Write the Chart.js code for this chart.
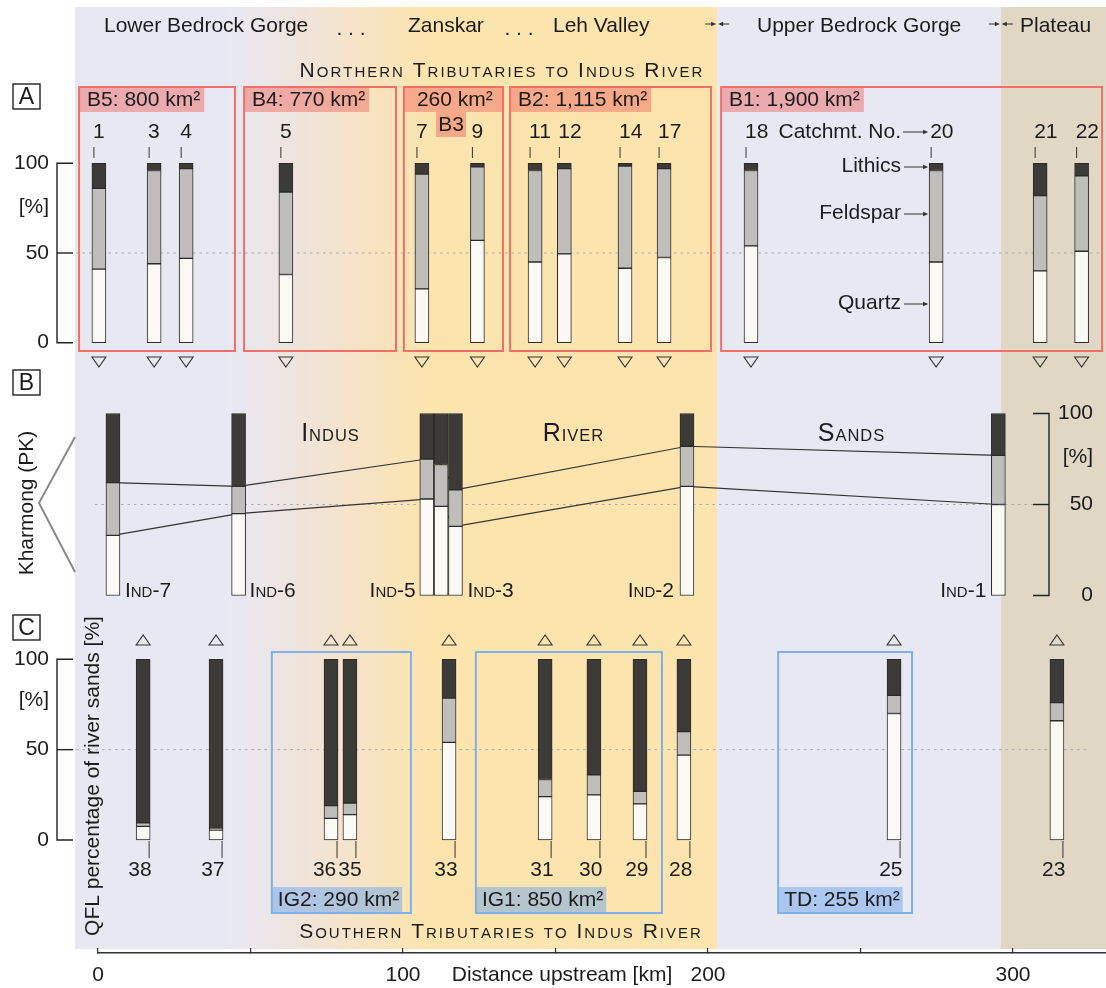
<!DOCTYPE html>
<html>
<head>
<meta charset="utf-8">
<title>QFL composition of Indus River and tributary sands</title>
<script src="https://cdn.jsdelivr.net/npm/chart.js@4.4.1/dist/chart.umd.min.js"></script>
<style>
  html, body { margin: 0; padding: 0; background: #fff; }
  canvas { display: block; }
</style>
</head>
<body>
<canvas id="qfl" width="1106" height="988" style="width:1106px;height:988px"></canvas>
<script>
// ---------- data: QFL percentages (Quartz, Feldspar, Lithics) ----------
// A: northern tributaries, catchment number and distance upstream [km]
const northIds = ['1', '3', '4', '5', '7', '9', '11', '12', '14', '17', '18', '20', '21', '22'];
const northKm  = [0.3, 18.4, 28.9, 61.6, 106.2, 124.4, 143.3, 152.9, 172.8, 185.6, 214.1, 274.8, 308.9, 322.5];
const northQ   = [41, 44, 47, 38, 30, 57, 45, 49.5, 41.5, 47.5, 54, 45, 40, 51];
const northF   = [45, 52, 50, 46, 64, 41, 51, 47.5, 57, 49.5, 42, 51, 42, 42];
const northL   = [14, 4, 3, 16, 6, 2, 4, 3, 1.5, 3, 4, 4, 18, 7];

// B: Indus trunk samples IND-7 ... IND-1
const indusIds = ['Ind-7', 'Ind-6', 'Ind-5', 'Ind-4', 'Ind-3', 'Ind-2', 'Ind-1'];
const indusKm  = [4.9, 46.1, 107.8, 112.5, 117.2, 193.1, 295.2];
const indusQ   = [33, 45, 53, 49, 38, 60, 50];
const indusF   = [29, 15, 22, 23, 20, 22, 27];
const indusL   = [38, 40, 25, 28, 42, 18, 23];

// C: southern tributaries
const southIds = ['38', '37', '36', '35', '33', '31', '30', '29', '28', '25', '23'];
const southKm  = [14.8, 38.7, 76.4, 82.6, 115.1, 146.6, 162.6, 177.7, 192.1, 261, 314.4];
const southQ   = [7.5, 5.5, 12, 14, 54, 24, 25, 20, 47, 70, 66];
const southF   = [2, 1, 7, 6.5, 24.5, 9.5, 11, 7, 13, 10, 10];
const southL   = [90.5, 93.5, 81, 79.5, 21.5, 66.5, 64, 73, 40, 20, 24];

// distance axis
const distanceTicks = [0, 100, 200, 300];
const percentTicks = ['100', '[%]', '50', '0'];

// ---------- layout ----------
const FAMILY = '"Liberation Sans", Arial, Helvetica, sans-serif';
const INK = '#1c1c1c';
const PLOT_LEFT = 98, PLOT_BOTTOM = 953;
const KM_MAX = (1106 - PLOT_LEFT) / 3.05;
// pixel rows of 100 % and 0 % in each panel
const panelRows = { yA: [163.3, 342.7], yB: [413.5, 595.5], yC: [659.3, 840] };
function axisRange([top, zero]) {
  const k = (zero - top) / 100;
  const max = 100 + top / k;
  return { min: max - PLOT_BOTTOM / k, max };
}

const COLORS = { Quartz: '#fbf9f4', Feldspar: '#bfbebb', Lithics: '#3d3b38' };

function qflSets(km, Q, F, L, axis) {
  const parts = [
    ['Quartz',   i => 0,           i => Q[i]],
    ['Feldspar', i => Q[i],        i => Q[i] + F[i]],
    ['Lithics',  i => Q[i] + F[i], i => Q[i] + F[i] + L[i]]
  ];
  return parts.map(([name, lo, hi]) => ({
    type: 'bar',
    label: name,
    yAxisID: axis,
    data: km.map((x, i) => ({ x, y: [lo(i), hi(i)] })),
    backgroundColor: COLORS[name],
    borderColor: '#2b2b2b',
    borderWidth: 1,
    borderSkipped: false,
    barThickness: 14,
    grouped: false,
    clip: false,
    order: 1
  }));
}

// trend lines joining the Q/F and F/L boundaries of the trunk samples
function boundaryLine(values) {
  return {
    type: 'line',
    yAxisID: 'yB',
    data: indusKm.map((x, i) => ({ x, y: values[i] })),
    borderColor: '#333',
    borderWidth: 1.2,
    pointRadius: 0,
    tension: 0,
    clip: false,
    order: 5
  };
}

// ---------- drawing helpers ----------
function txt(ctx, s, x, y, o = {}) {
  ctx.font = `${o.size || 21}px ${FAMILY}`;
  ctx.fillStyle = o.color || INK;
  ctx.textAlign = o.align || 'left';
  ctx.textBaseline = o.base || 'middle';
  ctx.fillText(s, x, y);
  return ctx.measureText(s).width;
}
function textWidth(ctx, s, size) {
  ctx.font = `${size}px ${FAMILY}`;
  return ctx.measureText(s).width;
}
// lower-case letters are set as small capitals
function smallCaps(ctx, s, x, y, big, small, align, track) {
  const parts = [...s].map(ch => {
    const low = ch !== ch.toUpperCase();
    return { ch: low ? ch.toUpperCase() : ch, size: low ? small : big };
  });
  let w = 0;
  parts.forEach(p => { p.w = textWidth(ctx, p.ch, p.size); w += p.w + track; });
  w -= track;
  let cx = align === 'center' ? x - w / 2 : align === 'right' ? x - w : x;
  ctx.textAlign = 'left';
  ctx.textBaseline = 'alphabetic';
  ctx.fillStyle = INK;
  parts.forEach(p => {
    ctx.font = `${p.size}px ${FAMILY}`;
    ctx.fillText(p.ch, cx, y);
    cx += p.w + track;
  });
  return w;
}
function line(ctx, pts, color = '#2b2b2b', width = 1.2) {
  ctx.beginPath();
  ctx.moveTo(pts[0][0], pts[0][1]);
  for (let i = 1; i < pts.length; i++) ctx.lineTo(pts[i][0], pts[i][1]);
  ctx.strokeStyle = color;
  ctx.lineWidth = width;
  ctx.stroke();
}
function arrow(ctx, x1, x2, y) {
  line(ctx, [[x1, y], [x2 - 4, y]], '#333', 1);
  ctx.beginPath();
  ctx.moveTo(x2, y); ctx.lineTo(x2 - 5, y - 2.2); ctx.lineTo(x2 - 5, y + 2.2); ctx.closePath();
  ctx.fillStyle = '#333'; ctx.fill();
}
function meetArrows(ctx, x, y) {
  // two small arrows pointing at a zone boundary
  arrow(ctx, x - 12, x - 1, y);
  line(ctx, [[x + 12, y], [x + 5, y]], '#333', 1);
  ctx.beginPath();
  ctx.moveTo(x + 1, y); ctx.lineTo(x + 6, y - 2.2); ctx.lineTo(x + 6, y + 2.2); ctx.closePath();
  ctx.fill();
}
function triangle(ctx, x, y, down) {
  const h = 10, w = 14;
  ctx.beginPath();
  if (down) { ctx.moveTo(x - w / 2, y - h / 2); ctx.lineTo(x + w / 2, y - h / 2); ctx.lineTo(x, y + h / 2); }
  else { ctx.moveTo(x - w / 2, y + h / 2); ctx.lineTo(x + w / 2, y + h / 2); ctx.lineTo(x, y - h / 2); }
  ctx.closePath();
  ctx.strokeStyle = '#333'; ctx.lineWidth = 1.1; ctx.stroke();
}
function letterBox(ctx, s, x, y) {
  ctx.strokeStyle = '#222'; ctx.lineWidth = 1.4;
  ctx.strokeRect(x, y, 27, 25);
  txt(ctx, s, x + 13.5, y + 13.5, { size: 23, align: 'center' });
}

// catchment boxes (km extents)
const northBasins = [
  { name: 'B5: 800 km²',   from: -6.2,  to: 44.9 },
  { name: 'B4: 770 km²',   from: 47.9,  to: 97.7 },
  { name: '260 km²',       from: 100.3, to: 132.8, full: true, inset: 13 },
  { name: 'B2: 1,115 km²', from: 135.1, to: 201.0 },
  { name: 'B1: 1,900 km²', from: 204.3, to: 329.2 }
];
const southBasins = [
  { name: 'IG2: 290 km²', from: 57.0,  to: 102.6 },
  { name: 'IG1: 850 km²', from: 123.9, to: 184.9 },
  { name: 'TD: 255 km²',  from: 223.0, to: 266.9 }
];

const decor = {
  id: 'decor',
  beforeDraw(chart) {
    const { ctx } = chart;
    const X = v => chart.scales.x.getPixelForValue(v);
    ctx.save();
    ctx.fillStyle = '#fff';
    ctx.fillRect(0, 0, chart.width, chart.height);
    const top = 7, h = 949 - 7;
    // Lower bedrock gorge
    ctx.fillStyle = '#e8e8f3';
    ctx.fillRect(75, top, X(43) - 75, h);
    // Zanskar ... Leh valley
    const g = ctx.createLinearGradient(X(43), 0, X(108), 0);
    g.addColorStop(0, '#e8e8f3');
    g.addColorStop(0.35, '#efe4dc');
    g.addColorStop(0.7, '#f8e3c3');
    g.addColorStop(1, '#fce4ae');
    ctx.fillStyle = g;
    ctx.fillRect(X(43), top, X(203) - X(43), h);
    // Upper bedrock gorge
    ctx.fillStyle = '#e8e8f3';
    ctx.fillRect(X(203), top, X(296) - X(203), h);
    // Plateau
    ctx.fillStyle = '#e0d8c4';
    ctx.fillRect(X(296), top, chart.width - X(296), h);
    ctx.restore();
  },
  beforeDatasetsDraw(chart) {
    const { ctx, scales } = chart;
    const X = v => scales.x.getPixelForValue(v);
    ctx.save();
    // 50 % reference lines
    ctx.setLineDash([2.5, 4]);
    line(ctx, [[76, scales.yA.getPixelForValue(50)], [1100, scales.yA.getPixelForValue(50)]], '#a9a9b0', 1);
    line(ctx, [[95, scales.yB.getPixelForValue(50)], [1033, scales.yB.getPixelForValue(50)]], '#a9a9b0', 1);
    line(ctx, [[76, scales.yC.getPixelForValue(50)], [1090, scales.yC.getPixelForValue(50)]], '#a9a9b0', 1);
    ctx.setLineDash([]);

    // northern catchments (red frames)
    northBasins.forEach(b => {
      const x0 = X(b.from), x1 = X(b.to);
      const inset = b.inset || 8;
      const tw = textWidth(ctx, b.name, 21);
      const fillEnd = b.full ? x1 : x0 + inset + tw + 4;
      ctx.fillStyle = 'rgba(240, 98, 92, 0.45)';
      ctx.fillRect(x0, 88, fillEnd - x0, 24);
      ctx.strokeStyle = '#f07068'; ctx.lineWidth = 2;
      ctx.strokeRect(x0, 87, x1 - x0, 264);
      txt(ctx, b.name, x0 + inset, 100.5, { size: 21 });
    });
    // sub-catchment tag
    ctx.fillStyle = 'rgba(240, 98, 92, 0.45)';
    ctx.fillRect(436, 112, 30, 25);
    txt(ctx, 'B3', 451, 125, { size: 21, align: 'center' });

    // southern catchments (blue frames)
    southBasins.forEach(b => {
      const x0 = X(b.from), x1 = X(b.to);
      const tw = textWidth(ctx, b.name, 21);
      ctx.fillStyle = 'rgba(110, 165, 235, 0.5)';
      ctx.fillRect(x0, 887, x0 + 6 + tw + 3 - x0, 26);
      ctx.strokeStyle = '#7fb1e8'; ctx.lineWidth = 2;
      ctx.strokeRect(x0, 652, x1 - x0, 261);
      txt(ctx, b.name, x0 + 6, 900.5, { size: 21 });
    });
    ctx.restore();
  },
  afterDatasetsDraw(chart) {
    const { ctx, scales } = chart;
    const X = v => scales.x.getPixelForValue(v);
    const yA = v => scales.yA.getPixelForValue(v);
    const yB = v => scales.yB.getPixelForValue(v);
    const yC = v => scales.yC.getPixelForValue(v);
    ctx.save();

    // zone names along the valley
    txt(ctx, 'Lower Bedrock Gorge', 104, 26, { size: 21 });
    txt(ctx, '. . .', 351, 29, { size: 21, align: 'center' });
    txt(ctx, 'Zanskar', 408, 26, { size: 21 });
    txt(ctx, '. . .', 519, 29, { size: 21, align: 'center' });
    txt(ctx, 'Leh Valley', 553, 26, { size: 21 });
    meetArrows(ctx, X(203), 24);
    txt(ctx, 'Upper Bedrock Gorge', 757, 26, { size: 21 });
    meetArrows(ctx, X(296), 24);
    txt(ctx, 'Plateau', 1020, 26, { size: 21 });

    smallCaps(ctx, 'Northern Tributaries to Indus River', 501, 77, 21, 15, 'center', 2);
    smallCaps(ctx, 'Southern Tributaries to Indus River', 500, 938, 21, 15, 'center', 2);

    // panel letters
    letterBox(ctx, 'A', 13, 84);
    letterBox(ctx, 'B', 13, 370);
    letterBox(ctx, 'C', 13, 615);

    // left percent brackets (A and C)
    [[yA, 207], [yC, 700]].forEach(([y, mid]) => {
      line(ctx, [[73, y(100)], [57, y(100)], [57, y(0)], [73, y(0)]], '#222', 1.4);
      line(ctx, [[57, y(50)], [73, y(50)]], '#222', 1.4);
      txt(ctx, percentTicks[0], 49, y(100), { align: 'right' });
      txt(ctx, percentTicks[1], 49, mid, { align: 'right' });
      txt(ctx, percentTicks[2], 49, y(50), { align: 'right' });
      txt(ctx, percentTicks[3], 49, y(0), { align: 'right' });
    });
    // right percent bracket (B)
    line(ctx, [[1033, yB(100)], [1049, yB(100)], [1049, yB(0)], [1033, yB(0)]], '#222', 1.4);
    line(ctx, [[1033, yB(50)], [1049, yB(50)]], '#222', 1.4);
    txt(ctx, percentTicks[0], 1093, yB(100), { align: 'right' });
    txt(ctx, percentTicks[1], 1093, 457, { align: 'right' });
    txt(ctx, percentTicks[2], 1093, yB(50), { align: 'right' });
    txt(ctx, percentTicks[3], 1093, yB(0), { align: 'right' });

    // panel A: catchment numbers, ticks, sample triangles
    northKm.forEach((km, i) => {
      const cx = X(km);
      line(ctx, [[cx - 5, 147], [cx - 5, 158]], '#333', 1);
      txt(ctx, northIds[i], cx - 6, 132, { size: 21 });
      triangle(ctx, cx, 362, true);
    });
    // legend of the composition bands at catchment 20
    const x20 = X(northKm[northIds.indexOf('20')]);
    txt(ctx, 'Catchmt. No.', 901, 132, { align: 'right' });
    arrow(ctx, 903, x20 - 8, 132);
    txt(ctx, 'Lithics', 901, 166, { align: 'right' });
    arrow(ctx, 904, x20 - 8, 167);
    txt(ctx, 'Feldspar', 901, 213, { align: 'right' });
    arrow(ctx, 904, x20 - 8, 214);
    txt(ctx, 'Quartz', 901, 303, { align: 'right' });
    arrow(ctx, 904, x20 - 8, 304);

    // panel B: Kharmong chevron and sample names
    line(ctx, [[75, 437], [39, 503], [75, 572]], '#8a8a8a', 2);
    ctx.save();
    ctx.translate(27, 503);
    ctx.rotate(-Math.PI / 2);
    txt(ctx, 'Kharmong (PK)', 0, 0, { size: 21, align: 'center' });
    ctx.restore();
    smallCaps(ctx, 'Indus', 330, 441, 25, 16.5, 'center', 1);
    smallCaps(ctx, 'River', 573, 441, 25, 16.5, 'center', 1);
    smallCaps(ctx, 'Sands', 851, 441, 25, 16.5, 'center', 1);
    const indLabel = (i, side, gap) => {
      const cx = X(indusKm[i]);
      if (side === 'right') smallCaps(ctx, indusIds[i], cx + 7 + gap, 597, 21, 15, 'left', 0);
      else smallCaps(ctx, indusIds[i], cx - 7 - gap, 597, 21, 15, 'right', 0);
    };
    indLabel(0, 'right', 5);
    indLabel(1, 'right', 4);
    indLabel(2, 'left', 4);
    indLabel(4, 'right', 5);
    indLabel(5, 'left', 6);
    indLabel(6, 'left', 5);

    // panel C: triangles, ticks and catchment numbers (nudged apart where crowded)
    const labels = southKm.map((km, i) => {
      const cx = X(km);
      const w = textWidth(ctx, southIds[i], 21);
      return { s: southIds[i], cx, r: cx + 8.5, w };
    });
    for (let i = 1; i < labels.length; i++) {
      const a = labels[i - 1], b = labels[i];
      const d = a.r - (b.r - b.w);
      if (d > -1) { a.r -= d / 2 + 1; b.r += d / 2 + 1; }
    }
    labels.forEach(l => {
      triangle(ctx, l.cx, 640, false);
      line(ctx, [[l.cx + 6, 841], [l.cx + 6, 858]], '#333', 1);
      txt(ctx, l.s, l.r, 870, { size: 21, align: 'right' });
    });

    // y title
    ctx.save();
    ctx.translate(93, 776);
    ctx.rotate(-Math.PI / 2);
    txt(ctx, 'QFL percentage of river sands [%]', 0, 0, { size: 21, align: 'center' });
    ctx.restore();

    // x title
    txt(ctx, 'Distance upstream [km]', 562, 975, { size: 21, align: 'center' });
    ctx.restore();
  }
};

new Chart(document.getElementById('qfl'), {
  type: 'bar',
  data: {
    datasets: [
      ...qflSets(northKm, northQ, northF, northL, 'yA'),
      ...qflSets(indusKm, indusQ, indusF, indusL, 'yB'),
      ...qflSets(southKm, southQ, southF, southL, 'yC'),
      boundaryLine(indusQ.map((q, i) => q + indusF[i])),
      boundaryLine(indusQ)
    ]
  },
  options: {
    responsive: false,
    animation: false,
    devicePixelRatio: 1,
    layout: { padding: { left: PLOT_LEFT, right: 0, top: 0, bottom: 0 } },
    plugins: { legend: { display: false }, tooltip: { enabled: false } },
    scales: {
      x: {
        type: 'linear',
        position: 'bottom',
        min: 0,
        max: KM_MAX,
        offset: false,
        afterFit(scale) { scale.height = 988 - PLOT_BOTTOM; },
        ticks: {
          stepSize: 50,
          includeBounds: false,
          autoSkip: false,
          maxRotation: 0,
          padding: 15,
          color: INK,
          font: { family: FAMILY, size: 21 },
          callback: v => (distanceTicks.includes(v) ? String(v) : '')
        },
        grid: { offset: false, drawOnChartArea: false, drawTicks: true, tickLength: -5, color: '#333', lineWidth: 1.2 },
        border: { display: true, color: '#333', width: 1.5 }
      },
      yA: { type: 'linear', display: false, position: 'left', ...axisRange(panelRows.yA) },
      yB: { type: 'linear', display: false, position: 'left', ...axisRange(panelRows.yB) },
      yC: { type: 'linear', display: false, position: 'left', ...axisRange(panelRows.yC) }
    }
  },
  plugins: [decor]
});
</script>
</body>
</html>
